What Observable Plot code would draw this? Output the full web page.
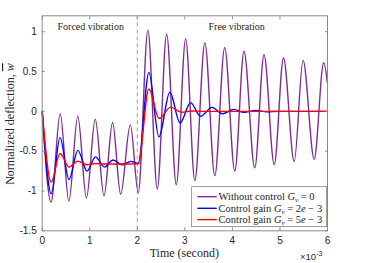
<!DOCTYPE html>
<html><head><meta charset="utf-8">
<script src="https://cdn.jsdelivr.net/npm/d3@7"></script>
<script src="https://cdn.jsdelivr.net/npm/@observablehq/plot@0.6"></script>
<style>
body{margin:0;background:#fff}
#chart{position:relative;width:369px;height:263px}
</style>
</head><body><div id="chart"></div>
<script>
// Time in ms (axis shown as x 1e-3 s), normalized deflection
const tNoControl = [0, 0.185, 0.379, 0.56, 0.749, 0.93, 1.116, 1.30, 1.48, 1.65, 1.853, 2.02, 2.223, 2.42, 2.617, 2.82, 3.017, 3.21, 3.421, 3.63, 3.838, 4.05, 4.244, 4.47, 4.665, 4.88, 5.074, 5.30, 5.486, 5.72, 5.92, 6.0];
const wNoControl = [0, -1.14, -0.03, -1.13, -0.06, -1.09, -0.10, -1.06, -0.14, -1.04, -0.17, -1.02, 1.02, -0.976, 0.97, -0.92, 0.91, -0.87, 0.86, -0.81, 0.80, -0.75, 0.755, -0.71, 0.71, -0.67, 0.67, -0.63, 0.64, -0.60, 0.61, 0.35];

const tGain2 = [0, 0.19, 0.375, 0.564, 0.75, 0.943, 1.12, 1.31, 1.49, 1.68, 1.86, 2.02, 2.244, 2.455, 2.684, 2.90, 3.12, 3.33, 3.57, 3.79, 4.03, 4.24, 4.49, 4.72, 4.95, 6.0];
const wGain2 = [0, -1.035, -0.33, -0.855, -0.49, -0.75, -0.572, -0.70, -0.61, -0.672, -0.628, -0.655, 0.49, -0.32, 0.24, -0.146, 0.11, -0.063, 0.05, -0.03, 0.025, -0.013, 0.012, -0.005, 0, 0];

const tGain5 = [0, 0.19, 0.375, 0.564, 0.75, 0.943, 1.12, 1.31, 2.02, 2.244, 2.46, 2.70, 2.93, 3.15, 3.4, 6.0];
const wGain5 = [0, -0.89, -0.53, -0.70, -0.625, -0.67, -0.655, -0.662, -0.66, 0.28, -0.09, 0.053, -0.012, 0.005, 0, 0];

const seriesNames = ["Without control", "Control gain 2e-3", "Control gain 5e-3"];
const seriesColors = ["#7E2F8E", "#0000FF", "#FF0000"];
const xTicks = [0, 1, 2, 3, 4, 5, 6];
const yTicks = [-1.5, -1, -0.5, 0, 0.5, 1];
const switchTime = [2];
const noteText = ["Forced vibration", "Free vibration"];
const noteX = [1.02, 4.09];
const noteY = [1.065, 1.065];

const toRows = (t, w) => t.map((v, i) => ({t: v, w: w[i]}));
const rowsNo = toRows(tNoControl, wNoControl);
const rows2 = toRows(tGain2, wGain2);
const rows5 = toRows(tGain5, wGain5);
const notes = noteText.map((s, i) => ({text: s, x: noteX[i], y: noteY[i]}));

const axisColor = "#8a8a8a";
const fmt = d => String(d);

const plot = Plot.plot({
  width: 369, height: 263,
  marginLeft: 41.7, marginRight: 42, marginTop: 15.3, marginBottom: 32.7,
  x: {domain: [0, 6]},
  y: {domain: [-1.5, 1.2]},
  style: {fontFamily: "'Liberation Sans', Arial, sans-serif", fontSize: "10px", color: "#262626", background: "#fff", overflow: "visible"},
  marks: [
    Plot.ruleX(switchTime, {stroke: "#9e9e9e", strokeWidth: 1, strokeDasharray: "4,3"}),
    Plot.line(rowsNo, {x: "t", y: "w", stroke: seriesColors[0], strokeWidth: 1.4, curve: "monotone-x"}),
    Plot.line(rows2, {x: "t", y: "w", stroke: seriesColors[1], strokeWidth: 1.4, curve: "monotone-x"}),
    Plot.line(rows5, {x: "t", y: "w", stroke: seriesColors[2], strokeWidth: 1.4, curve: "monotone-x"}),
    Plot.text(notes, {x: "x", y: "y", text: "text", fontFamily: "'Liberation Serif', 'Times New Roman', serif", fontSize: 10, fill: "#262626"}),
    Plot.frame({stroke: axisColor}),
    Plot.axisX({ticks: xTicks, anchor: "bottom", tickSize: -3, tickFormat: () => "", label: null, stroke: axisColor}),
    Plot.axisX({ticks: xTicks, anchor: "top", tickSize: -3, tickFormat: () => "", label: null, stroke: axisColor}),
    Plot.axisY({ticks: yTicks, anchor: "left", tickSize: -3, tickFormat: () => "", label: null, stroke: axisColor}),
    Plot.axisY({ticks: yTicks, anchor: "right", tickSize: -3, tickFormat: () => "", label: null, stroke: axisColor}),
    Plot.axisX({ticks: xTicks, anchor: "bottom", tickSize: 0, tickPadding: 6, tickFormat: fmt, label: null, fill: "#262626"}),
    Plot.axisY({ticks: yTicks, anchor: "left", tickSize: 0, tickPadding: 5.5, tickFormat: fmt, label: null, fill: "#262626"})
  ]
});
document.getElementById("chart").appendChild(plot);

const svg = d3.select(plot);
const serif = "'Liberation Serif', 'Times New Roman', serif";

// x label
svg.append("text").attr("x", 184.3).attr("y", 257).attr("text-anchor", "middle")
  .attr("font-family", serif).attr("font-size", 12).attr("fill", "#262626").text("Time (second)");

// y label
const yl = svg.append("text").attr("transform", "translate(14,124) rotate(-90)").attr("text-anchor", "middle")
  .attr("font-family", serif).attr("font-size", 12).attr("fill", "#262626");
yl.append("tspan").text("Normalized deflection, ");
yl.append("tspan").attr("font-style", "italic").style("text-decoration", "overline").text("w");

// exponent
const ex = svg.append("text").attr("x", 300).attr("y", 260).attr("font-size", 9.5).attr("fill", "#262626")
  .attr("text-anchor", "start").attr("font-family", "'Liberation Sans', Arial, sans-serif");
ex.append("tspan").text("×10");
ex.append("tspan").attr("font-size", 7).attr("dy", -4.5).text("-3");

// legend
const lg = svg.append("g");
lg.append("rect").attr("x", 191.7).attr("y", 186.7).attr("width", 135).attr("height", 40)
  .attr("fill", "#fff").attr("stroke", "#6e6e6e").attr("stroke-width", 0.7);
const legendTail = [" = 0", " = 2", " = 5"];
const legendHead = ["Without control ", "Control gain ", "Control gain "];
const rowY = [196.7, 208.3, 219.6];
seriesNames.forEach((n, i) => {
  lg.append("line").attr("x1", 197.3).attr("x2", 216.7).attr("y1", rowY[i]).attr("y2", rowY[i])
    .attr("stroke", seriesColors[i]).attr("stroke-width", 1.4);
  const t = lg.append("text").attr("x", 218.5).attr("y", rowY[i] + 3.5).attr("font-family", serif)
    .attr("text-anchor", "start").attr("font-size", 10.5).attr("fill", "#262626");
  t.append("tspan").text(legendHead[i]);
  t.append("tspan").attr("font-style", "italic").text("G");
  t.append("tspan").attr("font-style", "italic").attr("font-size", 7).attr("dy", 2).text("v");
  t.append("tspan").attr("dy", -2).text(legendTail[i]);
  if (i > 0) {
    t.append("tspan").attr("font-style", "italic").text("e");
    t.append("tspan").text(" − 3");
  }
});
</script>
</body></html>
